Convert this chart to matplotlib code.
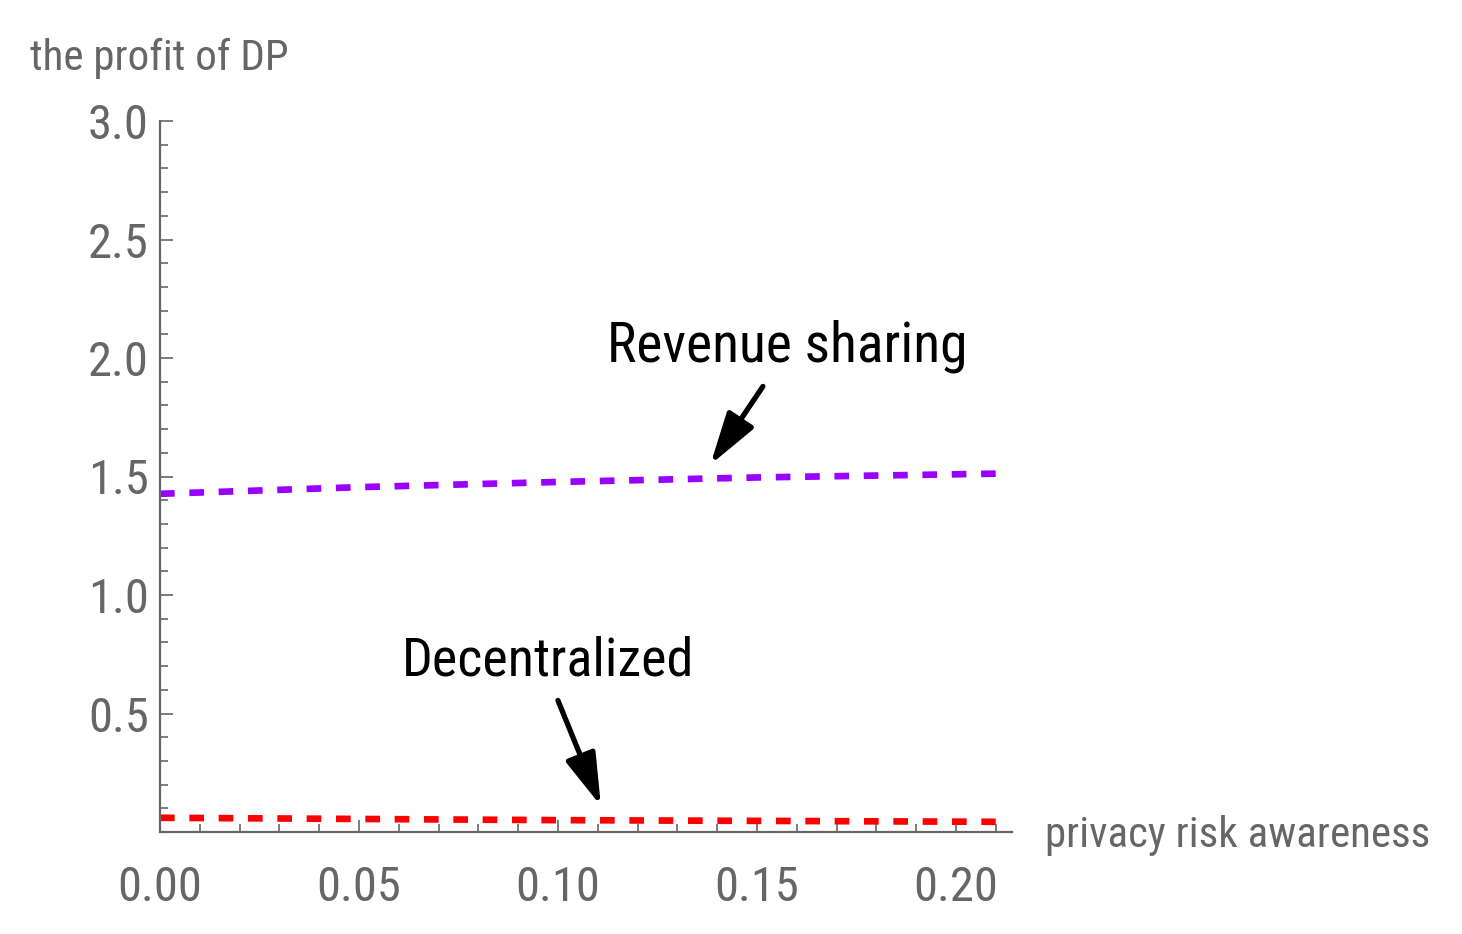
import matplotlib
matplotlib.use("Agg")
import matplotlib.pyplot as plt
from matplotlib import font_manager
from matplotlib.ticker import MultipleLocator, FixedLocator

# ---- data ----
x_vals = [0.00, 0.05, 0.10, 0.15, 0.21]
revenue_sharing = [1.427, 1.455, 1.477, 1.496, 1.512]
decentralized = [0.060, 0.055, 0.050, 0.047, 0.043]
x_ticks = [0.00, 0.05, 0.10, 0.15, 0.20]
x_tick_labels = ["0.00", "0.05", "0.10", "0.15", "0.20"]
y_ticks = [0.5, 1.0, 1.5, 2.0, 2.5, 3.0]
y_tick_labels = ["0.5", "1.0", "1.5", "2.0", "2.5", "3.0"]

def pick_font():
    for name in ["Liberation Sans Narrow", "Roboto Condensed", "Open Sans Condensed",
                 "DejaVu Sans Condensed", "Liberation Sans"]:
        try:
            font_manager.findfont(font_manager.FontProperties(family=name),
                                  fallback_to_default=False)
            return name
        except Exception:
            continue
    return "DejaVu Sans"

FONT = pick_font()
plt.rcParams["font.family"] = [FONT, "DejaVu Sans"]

GRAY = "#666666"
fig = plt.figure(figsize=(14.62, 9.34), dpi=100)
ax = fig.add_axes([160 / 1462, 1 - 832 / 934, (1012 - 160) / 1462, (832 - 121) / 934])

lw = 4.8
ax.plot(x_vals, revenue_sharing, color="#9900FF", lw=lw, dashes=(2.2, 2.2),
        solid_capstyle="butt", dash_capstyle="butt")
ax.plot(x_vals, decentralized, color="#FF0000", lw=lw, dashes=(2.2, 2.2),
        solid_capstyle="butt", dash_capstyle="butt")

ax.set_xlim(0, 0.2141)
ax.set_ylim(0, 3.0)

for s in ["top", "right"]:
    ax.spines[s].set_visible(False)
for s in ["left", "bottom"]:
    ax.spines[s].set_color(GRAY)
    ax.spines[s].set_linewidth(1.6)

ax.xaxis.set_major_locator(FixedLocator(x_ticks))
ax.set_xticklabels(x_tick_labels)
ax.xaxis.set_minor_locator(MultipleLocator(0.01))
ax.yaxis.set_major_locator(FixedLocator(y_ticks))
ax.set_yticklabels(y_tick_labels)
ax.yaxis.set_minor_locator(MultipleLocator(0.1))

ax.tick_params(which="both", direction="in", colors=GRAY, labelcolor=GRAY,
               labelsize=35, width=1.2)
ax.tick_params(which="major", length=9)
ax.tick_params(which="minor", length=6)
ax.tick_params(axis="x", which="major", pad=24)
ax.tick_params(axis="y", which="major", pad=8)

fig.text(1045 / 1462, 1 - 836 / 934, "privacy risk awareness", color=GRAY,
         fontsize=31, ha="left", va="center")
fig.text(30 / 1462, 1 - 58 / 934, "the profit of DP", color=GRAY,
         fontsize=31, ha="left", va="center")

arrowprops = dict(arrowstyle="-|>,head_length=3.2,head_width=0.95", color="black",
                  lw=3.8, shrinkA=0, shrinkB=0)
ax.annotate("", xy=(0.1383, 1.55), xytext=(0.1515, 1.88), arrowprops=arrowprops)
ax.annotate("", xy=(0.1108, 0.11), xytext=(0.1000, 0.555), arrowprops=arrowprops)

ax.text(0.1575, 2.05, "Revenue sharing", fontsize=40, color="black",
        ha="center", va="center")
ax.text(0.0975, 0.72, "Decentralized", fontsize=39, color="black",
        ha="center", va="center")

fig.savefig("out.png", dpi=100, facecolor="white")
